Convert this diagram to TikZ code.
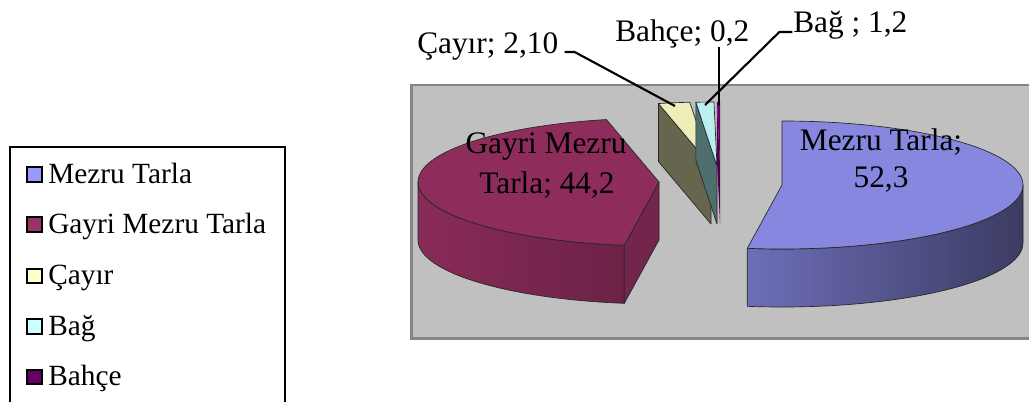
\documentclass[tikz,border=0pt]{standalone}
\usepackage{fontspec}
\setmainfont{Liberation Serif}
\usepackage{tikz}
\usetikzlibrary{positioning}
\usetikzlibrary{calc}
\definecolor{plotbg}{HTML}{C0C0C0}
\definecolor{plotframe}{HTML}{858585}
\definecolor{mezru}{HTML}{9999FF}
\definecolor{gayri}{HTML}{993366}
\definecolor{cayir}{HTML}{FFFFCC}
\definecolor{bag}{HTML}{CCFFFF}
\definecolor{bahce}{HTML}{660066}
\colorlet{mezrutop}{mezru!88!black}
\definecolor{mezruleft}{HTML}{6E6EB8}
\definecolor{mezruright}{HTML}{3B3B62}
\definecolor{gayritop}{HTML}{8E2D5B}
\definecolor{gayrileft}{HTML}{892B58}
\definecolor{gayriright}{HTML}{6C2246}
\definecolor{gayricut}{HTML}{74254B}
\definecolor{cayirtop}{HTML}{EEEEBB}
\definecolor{cayirface}{HTML}{66664F}
\definecolor{bagtop}{HTML}{BBEEEE}
\definecolor{bagface}{HTML}{4F6E6E}
\definecolor{bahceface}{HTML}{4C004C}
\tikzset{>=latex}

\begin{document}
\begin{tikzpicture}[x=0.75pt, y=-0.75pt,
    edge/.style={draw=black!85, line width=0.5pt, line join=round},
    lbl/.style={inner sep=0pt, font=\fontsize{23.5}{28}\selectfont},
    leg/.style={inner sep=0pt, anchor=base west, font=\fontsize{22}{26}\selectfont},
    swatch/.style={draw=black, line width=1.6pt, minimum size=11pt, inner sep=0pt},
    leader/.style={line width=1.6pt}]
        \useasboundingbox (0,0) rectangle (1029,401);
        \clip (0,0) rectangle (1029,401);

        % 1. Plot area in gray
        \draw[plotframe, fill=plotbg, line width=2.2pt] (411.5,85) rectangle (1045,338.5);

        % 2. The three thin slices pulled to the back
        \coordinate (Ocayir) at (711,166);
        \coordinate (Obag) at (717,166);
        \coordinate (Obahce) at (720,166);
        \draw[edge, fill=cayirface] (Ocayir) -- ($(Ocayir)+(257.4:241 and 64)$) -- ++(0,58) -- ($(Ocayir)+(0,58)$) -- cycle;
        \draw[edge, fill=cayirtop] (Ocayir) -- ($(Ocayir)+(257.4:241 and 64)$) arc[start angle=257.4, end angle=264.96, x radius=241, y radius=64] -- cycle;
        \draw[edge, fill=bagface] (Obag) -- ($(Obag)+(264.96:241 and 64)$) -- ++(0,58) -- ($(Obag)+(0,58)$) -- cycle;
        \draw[edge, fill=bagtop] (Obag) -- ($(Obag)+(264.96:241 and 64)$) arc[start angle=264.96, end angle=269.28, x radius=241, y radius=64] -- cycle;
        \fill[bahceface] (Obahce) -- ($(Obahce)+(269.28:241 and 64)$) -- ++(0,58) -- ($(Obahce)+(0,58)$) -- cycle;
        \fill[bahce] (Obahce) -- ($(Obahce)+(269.28:241 and 64)$) arc[start angle=269.28, end angle=270, x radius=241, y radius=64] -- cycle;

        % 3. Gayri Mezru Tarla slice (left)
        \coordinate (Ogayri) at (659,182);
        \draw[edge, left color=gayrileft, right color=gayriright] ($(Ogayri)+(98.28:241 and 64)$) arc[start angle=98.28, end angle=180, x radius=241, y radius=64] -- ++(0,58) arc[start angle=180, end angle=98.28, x radius=241, y radius=64] -- cycle;
        \draw[edge, fill=gayricut] (Ogayri) -- ($(Ogayri)+(98.28:241 and 64)$) -- ++(0,58) -- ($(Ogayri)+(0,58)$) -- cycle;
        \draw[edge, fill=gayritop] (Ogayri) -- ($(Ogayri)+(98.28:241 and 64)$) arc[start angle=98.28, end angle=257.4, x radius=241, y radius=64] -- cycle;

        % 4. Mezru Tarla slice (right)
        \coordinate (Omezru) at (782,185);
        \draw[edge, left color=mezruleft, right color=mezruright] ($(Omezru)+(0:241 and 64)$) arc[start angle=0, end angle=98.28, x radius=241, y radius=64] -- ++(0,58) arc[start angle=98.28, end angle=0, x radius=241, y radius=64] -- cycle;
        \draw[edge, fill=mezrutop] (Omezru) -- ($(Omezru)+(-90:241 and 64)$) arc[start angle=-90, end angle=98.28, x radius=241, y radius=64] -- cycle;

        % 5. Labels on the slices
        \node[lbl, anchor=base] (gayri1) at (546,153) {Gayri Mezru};
        \node[lbl, anchor=base] (gayri2) at (547,193) {Tarla; 44,2};
        \node[lbl, anchor=base] (mezru1) at (881,150) {Mezru Tarla;};
        \node[lbl, anchor=base] (mezru2) at (881,187) {52,3};

        % 6. Labels above with leader lines
        \coordinate (cayirtip) at (675,106);
        \coordinate (bahcetip) at (719,105);
        \coordinate (bahcetop) at (719,47);
        \coordinate (bagtip) at (705,105);
        \node[lbl, anchor=base west] (cayirlbl) at (417,53) {Çayır; 2,10};
        \node[lbl, anchor=base west] (bahcelbl) at (615,41) {Bahçe; 0,2};
        \node[lbl, anchor=base west] (baglbl) at (793,32) {Bağ ; 1,2};
        \draw[leader] ([xshift=4.5pt, yshift=0.8pt]cayirlbl.base east) -- ++(10,0) -- (cayirtip);
        \draw[leader] (bahcetop) -- (bahcetip);
        \draw[leader] ([xshift=-0.5pt]baglbl.base west) -- ++(-13,0) -- (bagtip);

        % 7. Legend box
        \draw[line width=1.5pt] (10,147) rectangle (285,430);
        \node[swatch, fill=mezru] (kmezru) at (34.5,174.5) {};
        \node[swatch, fill=gayri] (kgayri) at (34.5,224.5) {};
        \node[swatch, fill=cayir] (kcayir) at (34.5,276) {};
        \node[swatch, fill=bag] (kbag) at (34.5,326.5) {};
        \node[swatch, fill=bahce] (kbahce) at (34.5,377) {};
        \node[leg] (tmezru) at (48,183) {Mezru Tarla};
        \node[leg] (tgayri) at (48,233) {Gayri Mezru Tarla};
        \node[leg] (tcayir) at (48,284.5) {Çayır};
        \node[leg] (tbag) at (48,335) {Bağ};
        \node[leg] (tbahce) at (48,385.5) {Bahçe};
    \end{tikzpicture}
\end{document}
